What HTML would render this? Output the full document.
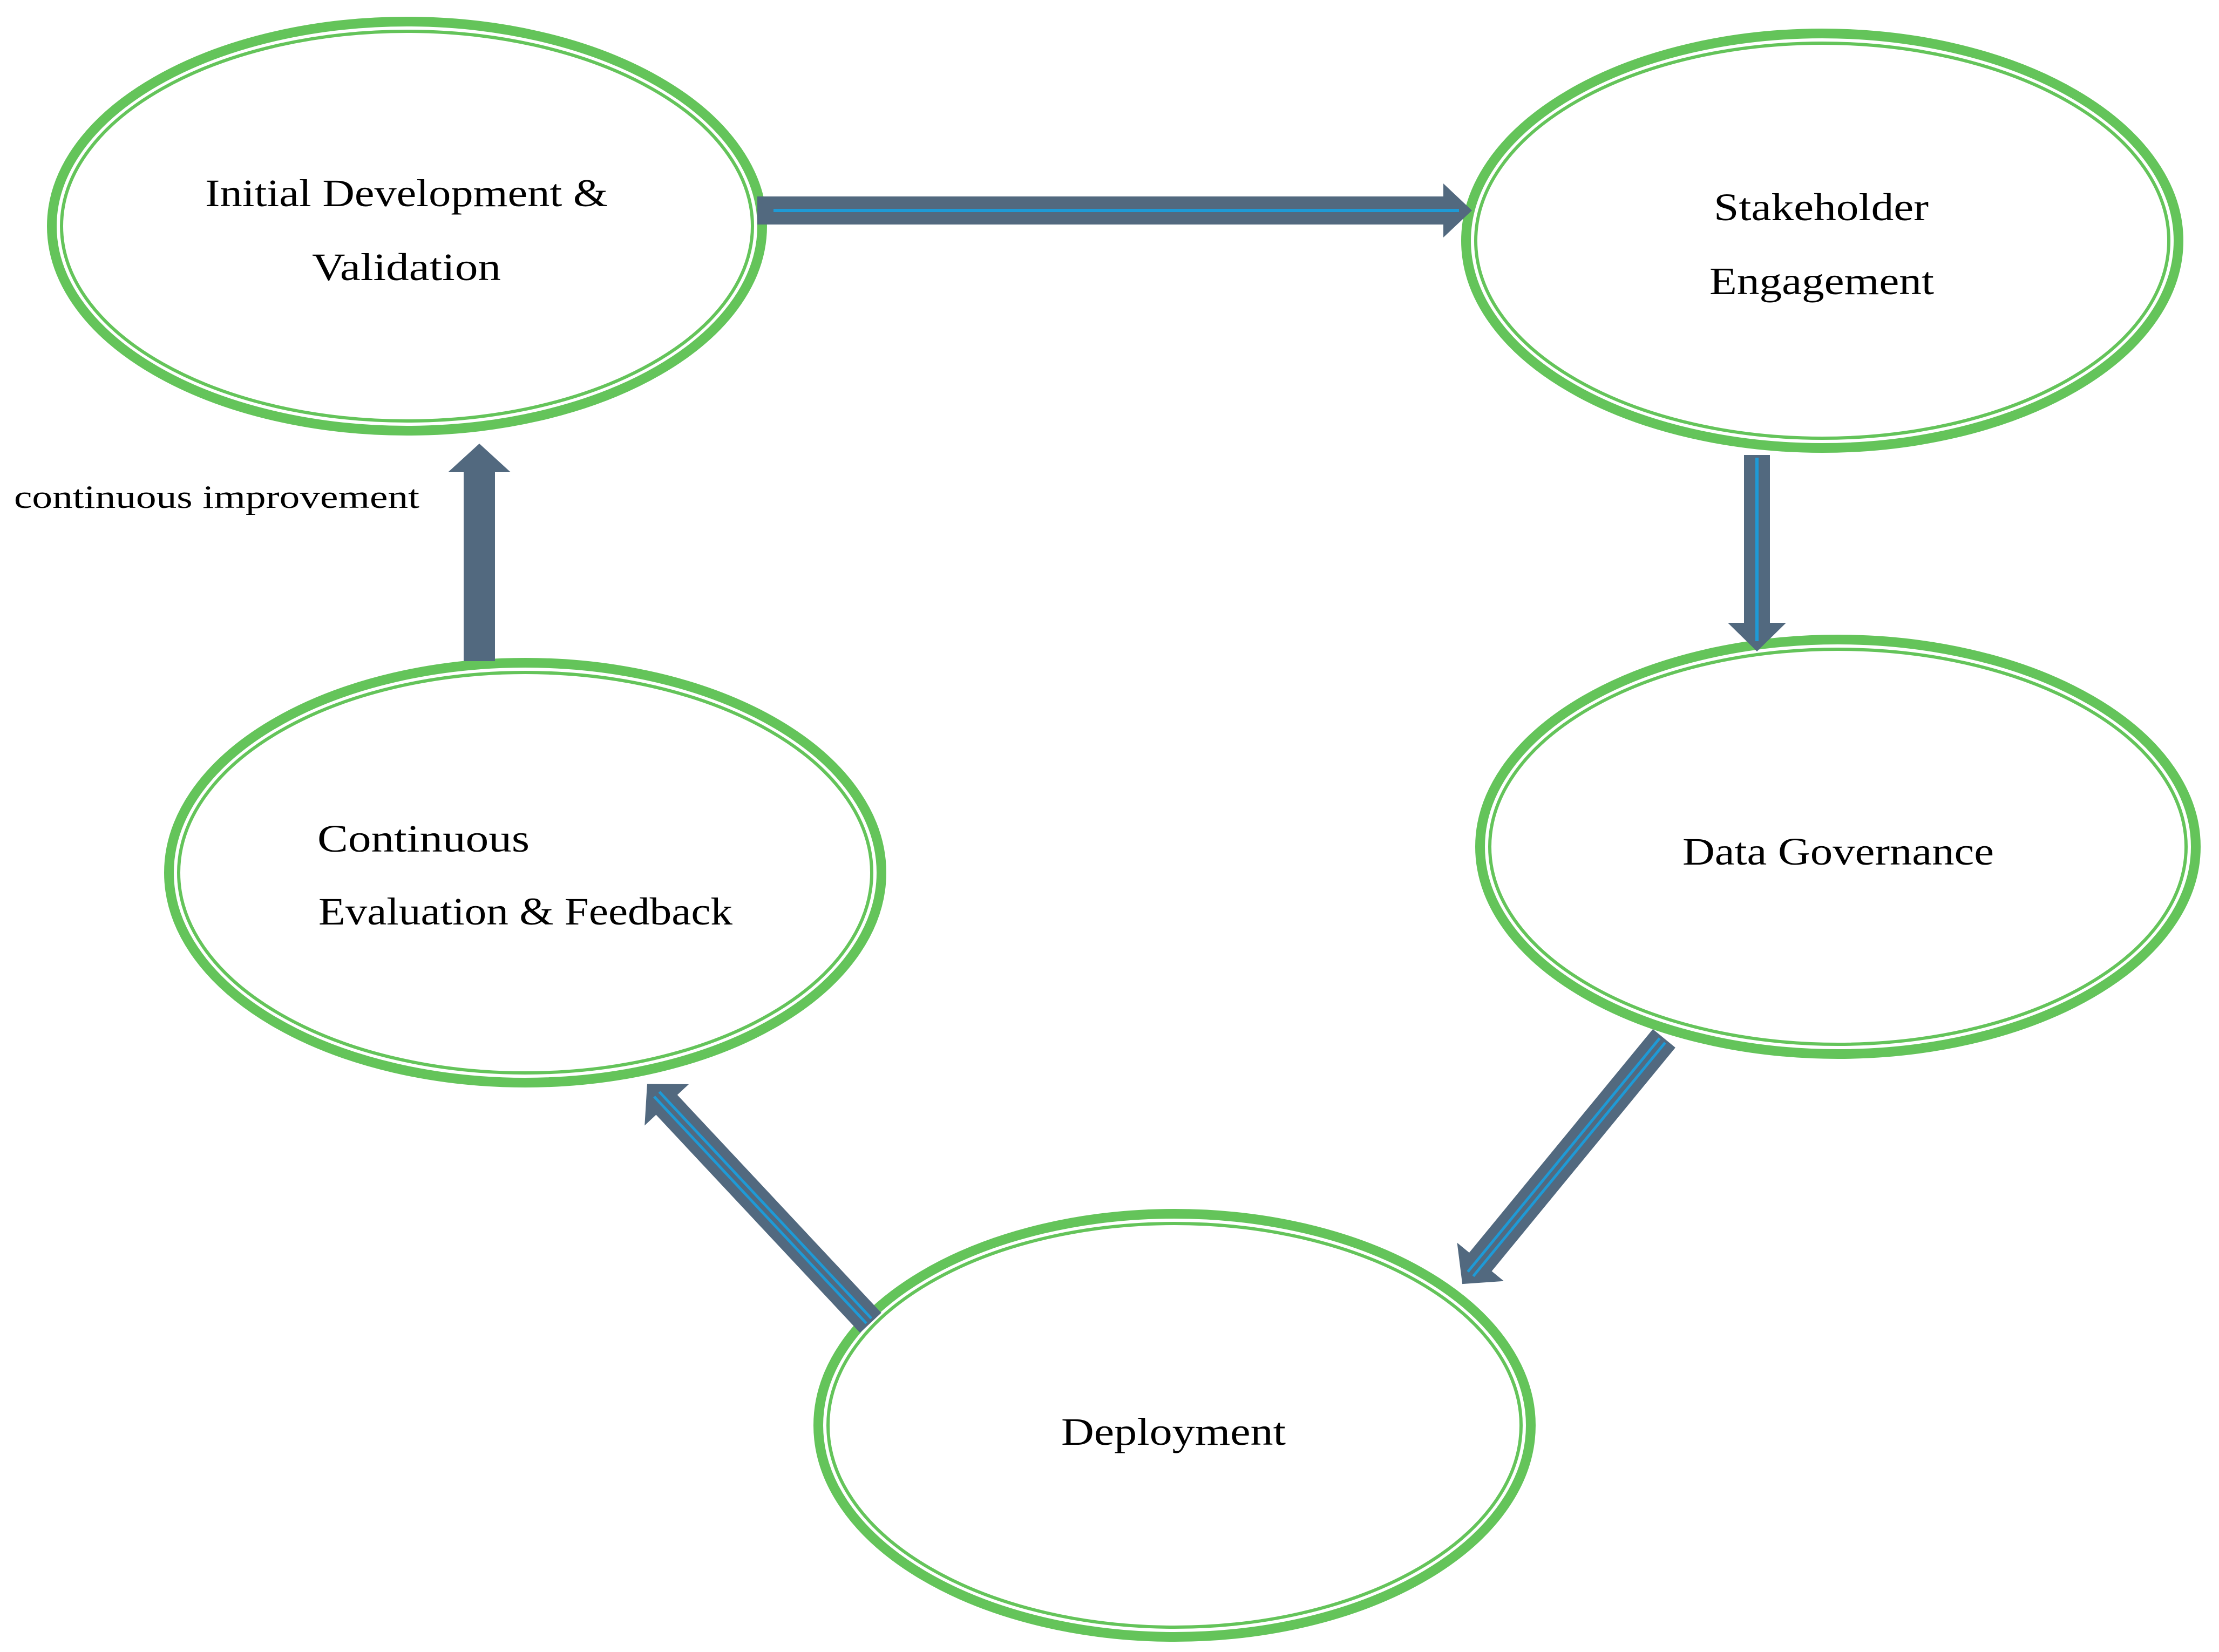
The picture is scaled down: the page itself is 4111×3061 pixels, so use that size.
<!DOCTYPE html>
<html><head><meta charset="utf-8"><style>
html,body{margin:0;padding:0;background:#fff;}
svg{display:block;}
text{font-family:"Liberation Serif",serif;fill:#000;}
</style></head><body>
<svg width="4111" height="3061" viewBox="0 0 4111 3061" xmlns="http://www.w3.org/2000/svg">
<g fill="none" stroke="#64C45A">
  <ellipse cx="754" cy="419" rx="658" ry="379" stroke-width="18"/>
  <ellipse cx="754" cy="419" rx="640" ry="361" stroke-width="6"/>
  <ellipse cx="3376" cy="446" rx="660" ry="384" stroke-width="18"/>
  <ellipse cx="3376" cy="446" rx="642" ry="366" stroke-width="6"/>
  <ellipse cx="3405" cy="1569" rx="663" ry="384" stroke-width="18"/>
  <ellipse cx="3405" cy="1569" rx="645" ry="366" stroke-width="6"/>
  <ellipse cx="973" cy="1617" rx="660" ry="389" stroke-width="18"/>
  <ellipse cx="973" cy="1617" rx="642" ry="371" stroke-width="6"/>
  <ellipse cx="2176" cy="2641" rx="660" ry="392" stroke-width="18"/>
  <ellipse cx="2176" cy="2641" rx="642" ry="374" stroke-width="6"/>
</g>
<g fill="#52697F">
  <g transform="translate(1403,390)">
    <polygon points="0,-26 1271,-26 1271,-50 1324,0 1271,50 1271,26 0,26"/>
    <rect x="30" y="-3" width="1270" height="6" fill="#1E9AD6"/>
  </g>
  <g transform="translate(3255,843) rotate(90)">
    <polygon points="0,-24 311,-24 311,-54 364,0 311,54 311,24 0,24"/>
    <rect x="5" y="-3" width="340" height="6" fill="#1E9AD6"/>
  </g>
  <g transform="translate(3083,1924) rotate(129.4)">
    <polygon points="0,-27 536,-27 536,-56 589,0 536,56 536,27 0,27"/>
    <rect x="5" y="-9" width="560" height="5" fill="#1E9AD6"/>
    <rect x="5" y="4" width="560" height="5" fill="#1E9AD6"/>
  </g>
  <g transform="translate(1613,2451) rotate(-133.1)">
    <polygon points="0,-27 553,-27 553,-56 606,0 553,56 553,27 0,27"/>
    <rect x="5" y="-9" width="575" height="5" fill="#1E9AD6"/>
    <rect x="5" y="4" width="575" height="5" fill="#1E9AD6"/>
  </g>
  <g transform="translate(888,1225) rotate(-90)">
    <polygon points="0,-29 350,-29 350,-58 403,0 350,58 350,29 0,29"/>
  </g>
</g>
<g font-size="72">
  <text x="380" y="382" textLength="746" lengthAdjust="spacingAndGlyphs">Initial Development &amp;</text>
  <text x="578" y="519" textLength="350" lengthAdjust="spacingAndGlyphs">Validation</text>
  <text x="3175" y="408" textLength="398" lengthAdjust="spacingAndGlyphs">Stakeholder</text>
  <text x="3167" y="545" textLength="416" lengthAdjust="spacingAndGlyphs">Engagement</text>
  <text x="3117" y="1602" textLength="577" lengthAdjust="spacingAndGlyphs">Data Governance</text>
  <text x="588" y="1578" textLength="393" lengthAdjust="spacingAndGlyphs">Continuous</text>
  <text x="590" y="1713" textLength="767" lengthAdjust="spacingAndGlyphs">Evaluation &amp; Feedback</text>
  <text x="1966" y="2677" textLength="416" lengthAdjust="spacingAndGlyphs">Deployment</text>
</g>
<text x="26" y="941" font-size="60" textLength="751" lengthAdjust="spacingAndGlyphs">continuous improvement</text>
</svg>
</body></html>
